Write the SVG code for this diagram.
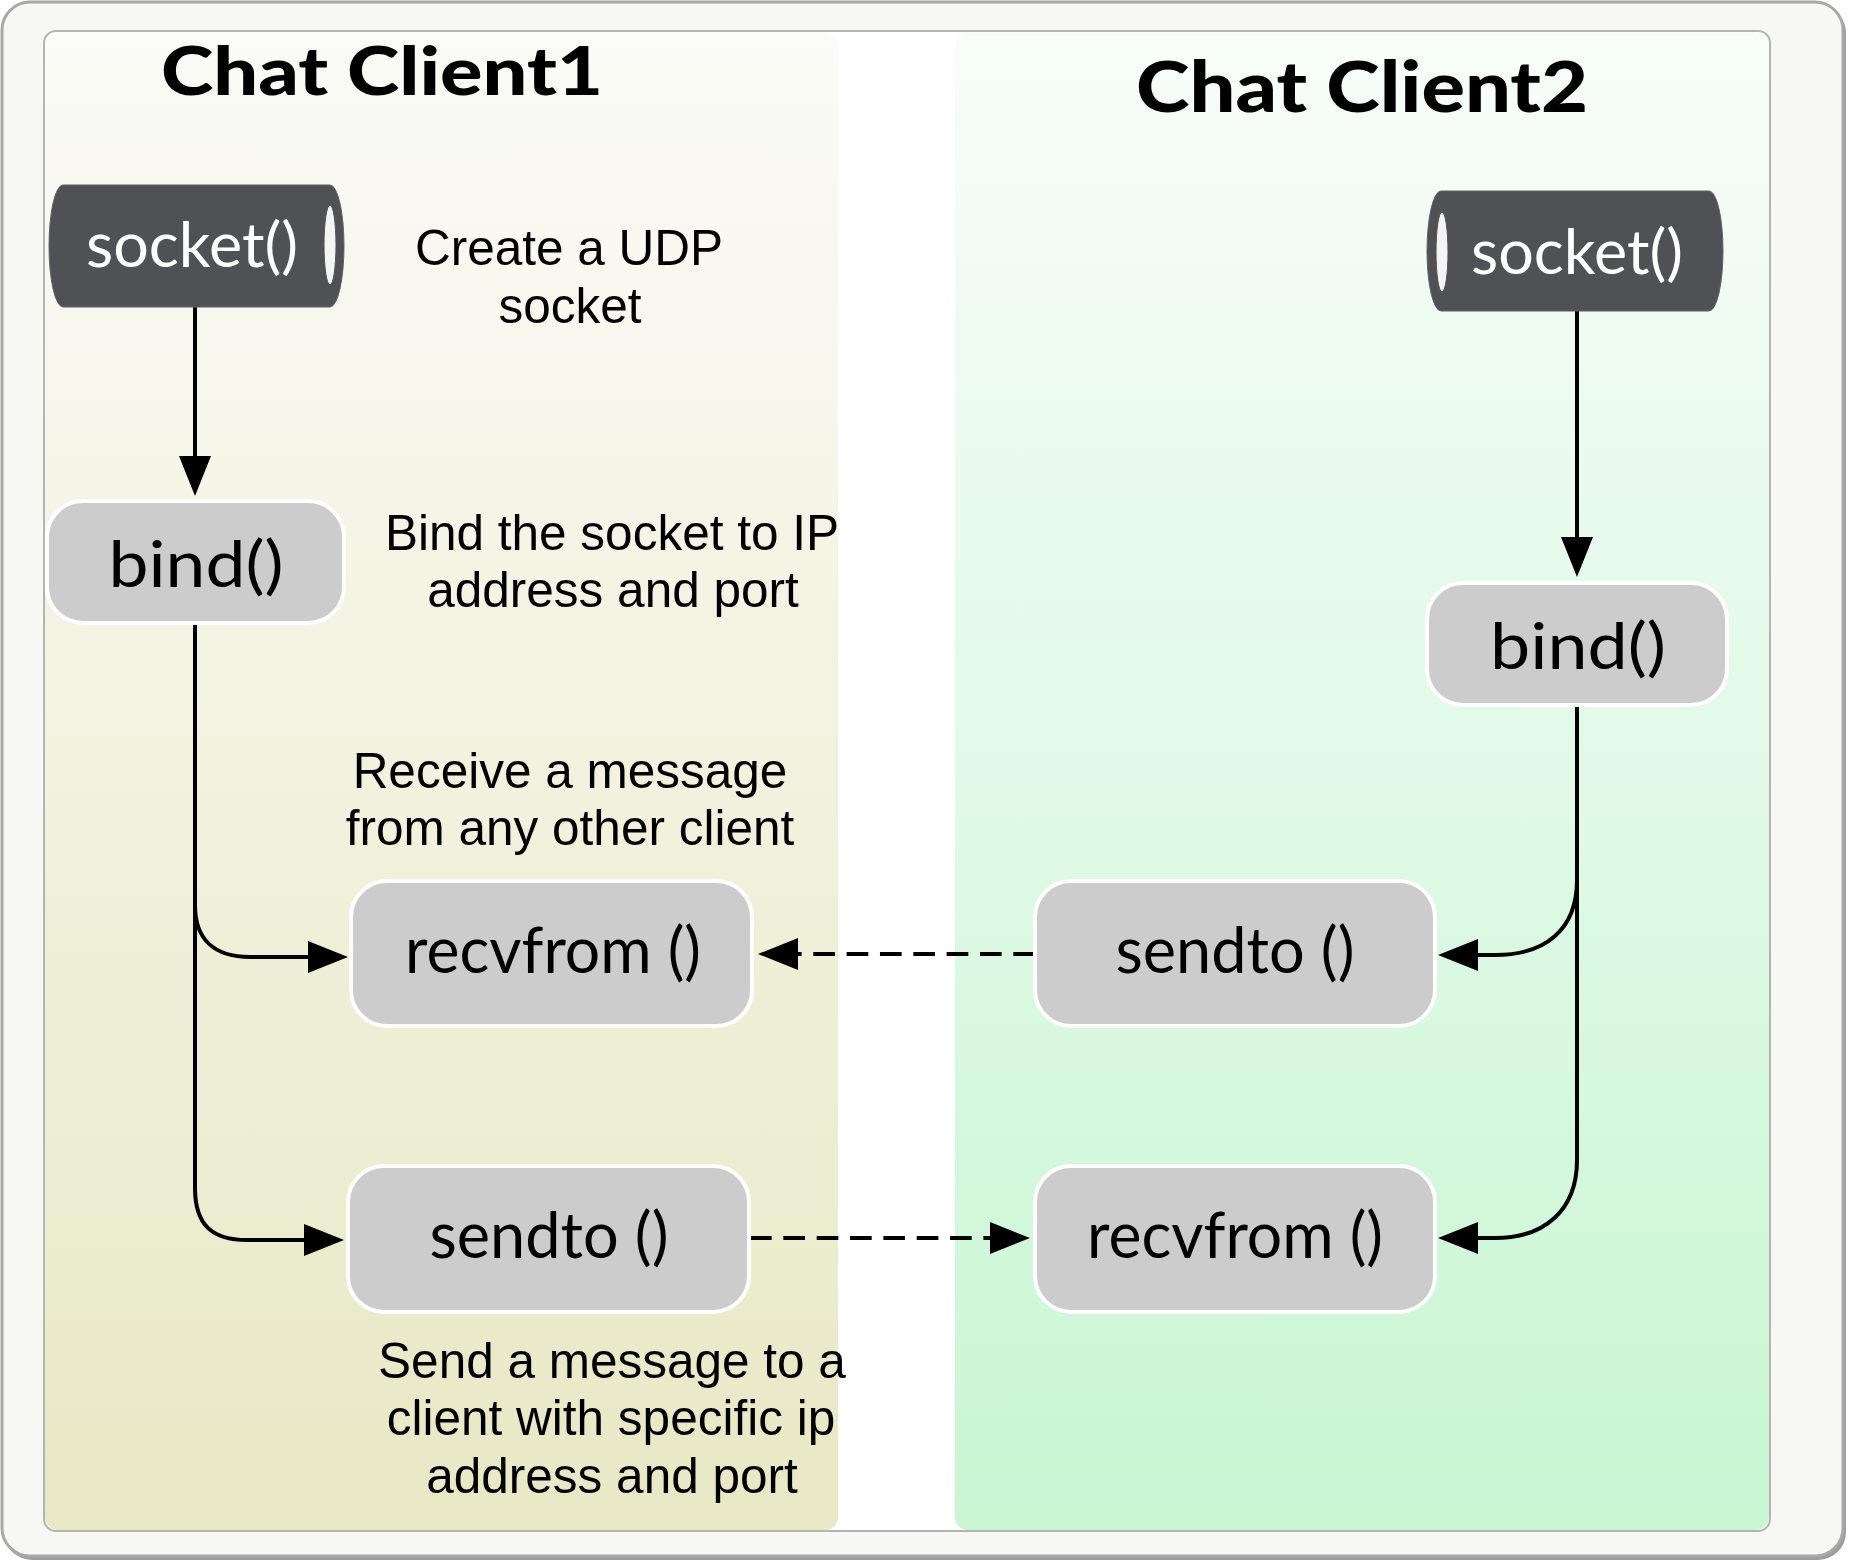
<svg xmlns="http://www.w3.org/2000/svg" width="1850" height="1563" viewBox="0 0 1850 1563">
<defs>
<linearGradient id="gLeft" x1="0" y1="0" x2="0" y2="1">
<stop offset="0" stop-color="#fbfbf7"/>
<stop offset="1" stop-color="#e8e8c5"/>
</linearGradient>
<linearGradient id="gRight" x1="0" y1="0" x2="0" y2="1">
<stop offset="0" stop-color="#f8fdf9"/>
<stop offset="1" stop-color="#c8f6d3"/>
</linearGradient>
<marker id="arr" markerUnits="userSpaceOnUse" viewBox="0 0 40 32" refX="0" refY="16" markerWidth="40" markerHeight="32" orient="auto">
<path d="M0,0 L40,16 L0,32 Z" fill="#000" stroke="none"/>
</marker>
<style>
.node{fill:#cccccc;stroke:#ffffff;stroke-width:4}
.cyl{fill:#505155;stroke:#606165;stroke-width:1}
.hl{fill:#f4f4f4;stroke:#505155;stroke-width:1}
.lbl{font-family:Lato,"Open Sans","Liberation Sans",sans-serif;font-size:63px;fill:#000;text-anchor:middle}
.wlbl{font-family:Lato,"Open Sans","Liberation Sans",sans-serif;font-size:62px;fill:#fff;text-anchor:middle}
.title{font-family:Lato,"Open Sans","Liberation Sans",sans-serif;font-weight:900;fill:#000;text-anchor:middle}
.note{font-family:"Liberation Sans",Arial,sans-serif;font-size:49.5px;fill:#000;text-anchor:middle}
.edge{fill:none;stroke:#000;stroke-width:4;marker-end:url(#arr)}
.dash{stroke-dasharray:21.67 11.67}
</style>
</defs>

<g id="frame">
<rect x="4" y="5" width="1842" height="1555" rx="28" fill="#9c9c9c"/>
<rect x="2" y="2" width="1841" height="1554" rx="28" fill="#f7f7f3" stroke="#a8a8a8" stroke-width="3"/>
<rect x="44" y="31" width="1726" height="1500" rx="12" fill="#ffffff" stroke="#b4b4b4" stroke-width="2"/>
</g>

<g id="lane-client1">
<rect x="45" y="33" width="793" height="1497" rx="13" fill="url(#gLeft)"/>
<text class="title" x="382" y="95" font-size="67" textLength="442" lengthAdjust="spacingAndGlyphs">Chat Client1</text>
</g>
<g id="lane-client2">
<rect x="955" y="33" width="814" height="1497" rx="13" fill="url(#gRight)"/>
<text class="title" x="1362" y="112" font-size="70" textLength="452" lengthAdjust="spacingAndGlyphs">Chat Client2</text>
</g>

<g id="connectors">
<path class="edge" d="M195,307 L195,456"/>
<path class="edge" d="M1577,311 L1577,537"/>
<path class="edge" d="M195,623 L195,905 C195,940 215,957 250,957 L308,957"/>
<path class="edge" d="M195,623 L195,1188 C195,1225 212,1240 247,1240 L304,1240"/>
<path class="edge" d="M1577,705 L1577,880 C1577,930 1545,955 1495,955 L1478,955"/>
<path class="edge" d="M1577,705 L1577,1160 C1577,1210 1545,1238 1495,1238 L1478,1238"/>
<path class="edge dash" d="M1035,954 L798,954"/>
<path class="edge dash" d="M750,1238 L990,1238"/>
</g>

<g id="socket1">
<path class="cyl" d="M63,185 L330,185 A14,61 0 0 1 330,307 L63,307 A14,61 0 0 1 63,185 Z"/>
<ellipse class="hl" cx="330" cy="245" rx="6" ry="40"/>
<text class="wlbl" x="192" y="267" textLength="212" lengthAdjust="spacingAndGlyphs">socket()</text>
</g>
<g id="socket2">
<path class="cyl" d="M1441,191 L1709,191 A14,60 0 0 1 1709,311 L1441,311 A14,60 0 0 1 1441,191 Z"/>
<ellipse class="hl" cx="1442" cy="252" rx="6" ry="40"/>
<text class="wlbl" x="1577" y="274" textLength="212" lengthAdjust="spacingAndGlyphs">socket()</text>
</g>
<g id="bind1">
<rect class="node" x="47" y="501" width="297" height="122" rx="36"/>
<text class="lbl" x="196" y="587" font-size="69" textLength="175" lengthAdjust="spacingAndGlyphs">bind()</text>
</g>
<g id="bind2">
<rect class="node" x="1427" y="583" width="300" height="122" rx="36"/>
<text class="lbl" x="1578" y="669" font-size="69" textLength="176" lengthAdjust="spacingAndGlyphs">bind()</text>
</g>
<g id="recvfrom1">
<rect class="node" x="351" y="881" width="401" height="145" rx="36"/>
<text class="lbl" x="553" y="973" textLength="296" lengthAdjust="spacingAndGlyphs">recvfrom ()</text>
</g>
<g id="sendto1">
<rect class="node" x="348" y="1166" width="401" height="146" rx="36"/>
<text class="lbl" x="549" y="1258" textLength="239" lengthAdjust="spacingAndGlyphs">sendto ()</text>
</g>
<g id="sendto2">
<rect class="node" x="1035" y="881" width="400" height="145" rx="36"/>
<text class="lbl" x="1235" y="973" textLength="239" lengthAdjust="spacingAndGlyphs">sendto ()</text>
</g>
<g id="recvfrom2">
<rect class="node" x="1035" y="1166" width="400" height="146" rx="36"/>
<text class="lbl" x="1235" y="1258" textLength="296" lengthAdjust="spacingAndGlyphs">recvfrom ()</text>
</g>

<g id="annotations">
<text class="note" x="569" y="265">Create a UDP</text>
<text class="note" x="570" y="323">socket</text>
<text class="note" x="612" y="550">Bind the socket to IP</text>
<text class="note" x="613" y="607">address and port</text>
<text class="note" x="570" y="788">Receive a message</text>
<text class="note" x="570" y="845">from any other client</text>
<text class="note" x="612" y="1378">Send a message to a</text>
<text class="note" x="611" y="1435">client with specific ip</text>
<text class="note" x="612" y="1493">address and port</text>
</g>
</svg>
